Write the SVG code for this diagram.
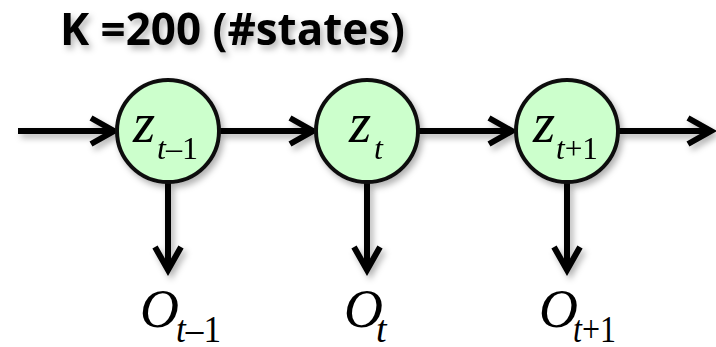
<svg xmlns="http://www.w3.org/2000/svg" width="716" height="347" viewBox="0 0 716 347">
<style>
.node{fill:#ccffcc;stroke:#111;stroke-width:4}
.edge{stroke:#000;stroke-width:6;fill:none}
.math{font-family:"Liberation Serif","Times New Roman",serif;font-style:italic;fill:#000}
.up{font-style:normal}
.title{font-family:"Open Sans","Noto Sans","Liberation Sans",sans-serif;font-weight:bold;font-size:45px;fill:#000}
</style>
<defs>
<filter id="sh" filterUnits="userSpaceOnUse" x="0" y="0" width="716" height="347">
<feDropShadow dx="3" dy="4" stdDeviation="3" flood-color="#000" flood-opacity="0.3"/>
</filter>
<marker id="ah" markerUnits="userSpaceOnUse" markerWidth="40" markerHeight="40" viewBox="-30 -20 40 40" refX="0" refY="0" orient="auto">
<path d="M-24,-13 L-1,0 L-24,13" fill="none" stroke="#000" stroke-width="6" stroke-linejoin="miter"/>
</marker>
</defs>
<g id="title" filter="url(#sh)">
<text class="title" x="60" y="45" textLength="345" lengthAdjust="spacingAndGlyphs">K =200 (#states)</text>
</g>
<g id="connectors" filter="url(#sh)">
<line class="edge" x1="18" y1="131" x2="115" y2="131" marker-end="url(#ah)"/>
<line class="edge" x1="220" y1="131" x2="314" y2="131" marker-end="url(#ah)"/>
<line class="edge" x1="419" y1="131" x2="513" y2="131" marker-end="url(#ah)"/>
<line class="edge" x1="619" y1="131" x2="712" y2="131" marker-end="url(#ah)"/>
<line class="edge" x1="168" y1="183" x2="168" y2="271" marker-end="url(#ah)"/>
<line class="edge" x1="367" y1="183" x2="367" y2="271" marker-end="url(#ah)"/>
<line class="edge" x1="567" y1="183" x2="567" y2="271" marker-end="url(#ah)"/>
</g>
<g id="z1" filter="url(#sh)">
<circle class="node" cx="168" cy="131" r="51"/>
<text class="math" x="133" y="142" font-size="57">z</text>
<text class="math" x="157" y="159" font-size="32" textLength="41" lengthAdjust="spacingAndGlyphs">t<tspan class="up">–1</tspan></text>
</g>
<g id="z2" filter="url(#sh)">
<circle class="node" cx="367" cy="131" r="51"/>
<text class="math" x="349" y="142" font-size="57">z</text>
<text class="math" x="374" y="159" font-size="32">t</text>
</g>
<g id="z3" filter="url(#sh)">
<circle class="node" cx="567" cy="131" r="51"/>
<text class="math" x="533" y="142" font-size="57">z</text>
<text class="math" x="556" y="159" font-size="32" textLength="42" lengthAdjust="spacingAndGlyphs">t<tspan class="up">+1</tspan></text>
</g>
<g id="o1">
<text class="math" x="140" y="327" font-size="54">O</text>
<text class="math" x="176" y="342" font-size="38" textLength="45" lengthAdjust="spacingAndGlyphs">t<tspan class="up">–1</tspan></text>
</g>
<g id="o2">
<text class="math" x="344" y="327" font-size="54">O</text>
<text class="math" x="376" y="342" font-size="38">t</text>
</g>
<g id="o3">
<text class="math" x="539" y="327" font-size="54">O</text>
<text class="math" x="573" y="342" font-size="38" textLength="43" lengthAdjust="spacingAndGlyphs">t<tspan class="up">+1</tspan></text>
</g>
</svg>
